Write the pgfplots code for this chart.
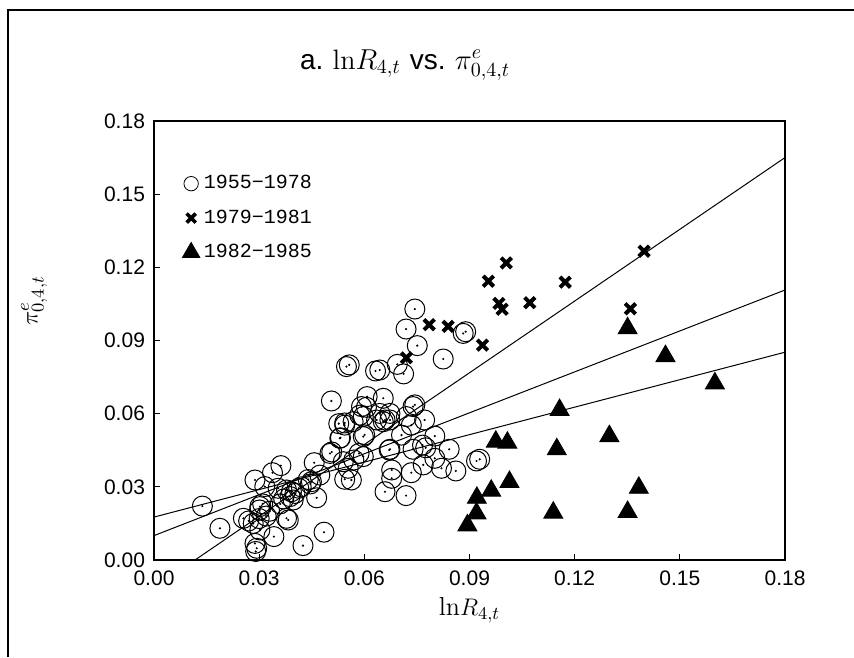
\documentclass[border=0pt]{standalone}
\usepackage{pgfplots}
\pgfplotsset{compat=1.18}
\usepackage{pgfplotstable}
\usepackage{fontspec}
\newfontfamily\sansf{Liberation Sans}
\newfontfamily\monof{Liberation Mono}

\pgfplotstableread{
x y
0.0719 0.0947
0.0557 0.0800
0.0549 0.0793
0.0632 0.0775
0.0694 0.0802
0.0506 0.0652
0.0608 0.0670
0.0654 0.0663
0.0592 0.0629
0.0544 0.0562
0.0597 0.0588
0.0635 0.0574
0.0654 0.0567
0.0673 0.0574
0.0530 0.0499
0.0601 0.0513
0.0138 0.0221
0.0188 0.0130
0.0288 0.0328
0.0316 0.0301
0.0338 0.0358
0.0362 0.0387
0.0354 0.0294
0.0302 0.0219
0.0301 0.0205
0.0310 0.0230
0.0255 0.0171
0.0283 0.0150
0.0302 0.0123
0.0288 0.0068
0.0293 0.0048
0.0290 0.0035
0.0342 0.0096
0.0378 0.0171
0.0383 0.0164
0.0388 0.0260
0.0402 0.0273
0.0397 0.0246
0.0413 0.0294
0.0378 0.0287
0.0425 0.0059
0.0485 0.0114
0.0464 0.0255
0.0457 0.0399
0.0449 0.0321
0.0446 0.0312
0.0473 0.0348
0.0502 0.0437
0.0507 0.0443
0.0532 0.0501
0.0540 0.0403
0.0554 0.0376
0.0544 0.0331
0.0563 0.0328
0.0570 0.0410
0.0585 0.0437
0.0597 0.0424
0.0544 0.0553
0.0527 0.0559
0.0568 0.0567
0.0587 0.0594
0.0597 0.0506
0.0606 0.0626
0.0644 0.0601
0.0659 0.0574
0.0671 0.0451
0.0659 0.0280
0.0678 0.0369
0.0678 0.0335
0.0320 0.0180
0.0330 0.0200
0.0360 0.0230
0.0370 0.0250
0.0392 0.0280
0.0420 0.0300
0.0440 0.0330
0.0300 0.0170
0.0270 0.0160
0.0673 0.0601
0.0720 0.0588
0.0739 0.0629
0.0772 0.0574
0.0734 0.0553
0.0706 0.0512
0.0801 0.0508
0.0673 0.0454
0.0739 0.0454
0.0766 0.0471
0.0775 0.0460
0.0842 0.0454
0.0801 0.0417
0.0820 0.0376
0.0768 0.0390
0.0734 0.0358
0.0861 0.0365
0.0920 0.0406
0.0929 0.0413
0.0719 0.0264
0.0744 0.1029
0.0751 0.0879
0.0712 0.0763
0.0825 0.0824
0.0889 0.0936
0.0882 0.0929
0.0644 0.0779
0.0744 0.0636
}\earlydata

\pgfplotstableread{
x y
0.0720 0.0829
0.0785 0.0965
0.0839 0.0958
0.0937 0.0881
0.0954 0.1143
0.1005 0.1218
0.0984 0.1052
0.0993 0.1028
0.1072 0.1055
0.1173 0.1139
0.1398 0.1266
0.1359 0.1030
}\middata

\pgfplotstableread{
x y
0.1351 0.0950
0.1459 0.0836
0.1600 0.0724
0.1157 0.0615
0.0975 0.0485
0.1008 0.0481
0.1299 0.0508
0.1149 0.0454
0.1014 0.0320
0.0962 0.0284
0.0921 0.0255
0.1383 0.0296
0.0920 0.0191
0.1139 0.0194
0.1351 0.0197
0.0894 0.0142
}\latedata

\begin{document}
\begin{tikzpicture}
\useasboundingbox (0,0) rectangle (427pt,328.5pt);
\draw[line width=0.6pt] (4pt,0) -- (4pt,323.5pt) -- (427pt,323.5pt);
\begin{axis}[
  scale only axis,
  width=315.5pt, height=219.5pt,
  at={(77pt,48.5pt)}, anchor=south west,
  xmin=0, xmax=0.18, ymin=0, ymax=0.18,
  xtick={0,0.03,...,0.18}, ytick={0,0.03,...,0.18},
  xtick pos=left, ytick pos=left,
  tick align=inside,
  major tick length=3pt,
  axis line style={line width=1pt},
  tick style={line width=0.6pt, black},
  /pgf/number format/assume math mode=true,
  /pgf/number format/fixed,
  /pgf/number format/fixed zerofill,
  /pgf/number format/precision=2,
  ticklabel style={font=\sansf\fontsize{10.5}{12}\selectfont},
  xticklabel style={yshift=-2pt},
  yticklabel style={xshift=-1pt},
  title={{\sansf a.}\ $\mathrm{ln}R_{4,t}$\ {\sansf vs.}\ $\pi^{e}_{0,4,t}$},
  title style={at={(0.398,1)}, anchor=center, yshift=22pt, font=\fontsize{14}{16}\selectfont},
  xlabel={$\mathrm{ln}R_{4,t}$},
  xlabel style={font=\fontsize{13}{15}\selectfont, at={(axis description cs:0.5,-0.115)}, anchor=center},
  ylabel={$\pi^{e}_{0,4,t}$},
  ylabel style={font=\fontsize{13}{15}\selectfont, at={(axis description cs:-0.19,0.59)}, anchor=center},
  legend style={at={(0.035,0.895)}, anchor=north west, draw=none, fill=none,
    font=\monof\fontsize{10}{12}\selectfont, row sep=5pt,
    legend cell align=left},
]
\addlegendimage{only marks, mark=o, mark size=3.6pt, thin}
\addlegendentry{1955−1978}
\addlegendimage{only marks, mark=x, mark size=3.2pt, line width=1.8pt}
\addlegendentry{1979−1981}
\addlegendimage{only marks, mark=triangle*, mark size=5pt}
\addlegendentry{1982−1985}

\addplot[forget plot, line width=0.5pt] coordinates {(0.0117,0) (0.18,0.165)};
\addplot[forget plot, line width=0.5pt] coordinates {(0,0.0100) (0.18,0.1107)};
\addplot[forget plot, line width=0.5pt] coordinates {(0,0.0176) (0.18,0.0852)};

\addplot[forget plot, only marks, mark=o, mark size=5pt, mark options={line width=0.5pt}] table {\earlydata};
\addplot[forget plot, only marks, mark=*, mark size=0.3pt] table {\earlydata};
\addplot[forget plot, only marks, mark=x, mark size=3.7pt, mark options={line width=2pt}] table {\middata};
\addplot[forget plot, only marks, mark=triangle*, mark size=5.5pt] table {\latedata};
\end{axis}
\end{tikzpicture}
\end{document}
